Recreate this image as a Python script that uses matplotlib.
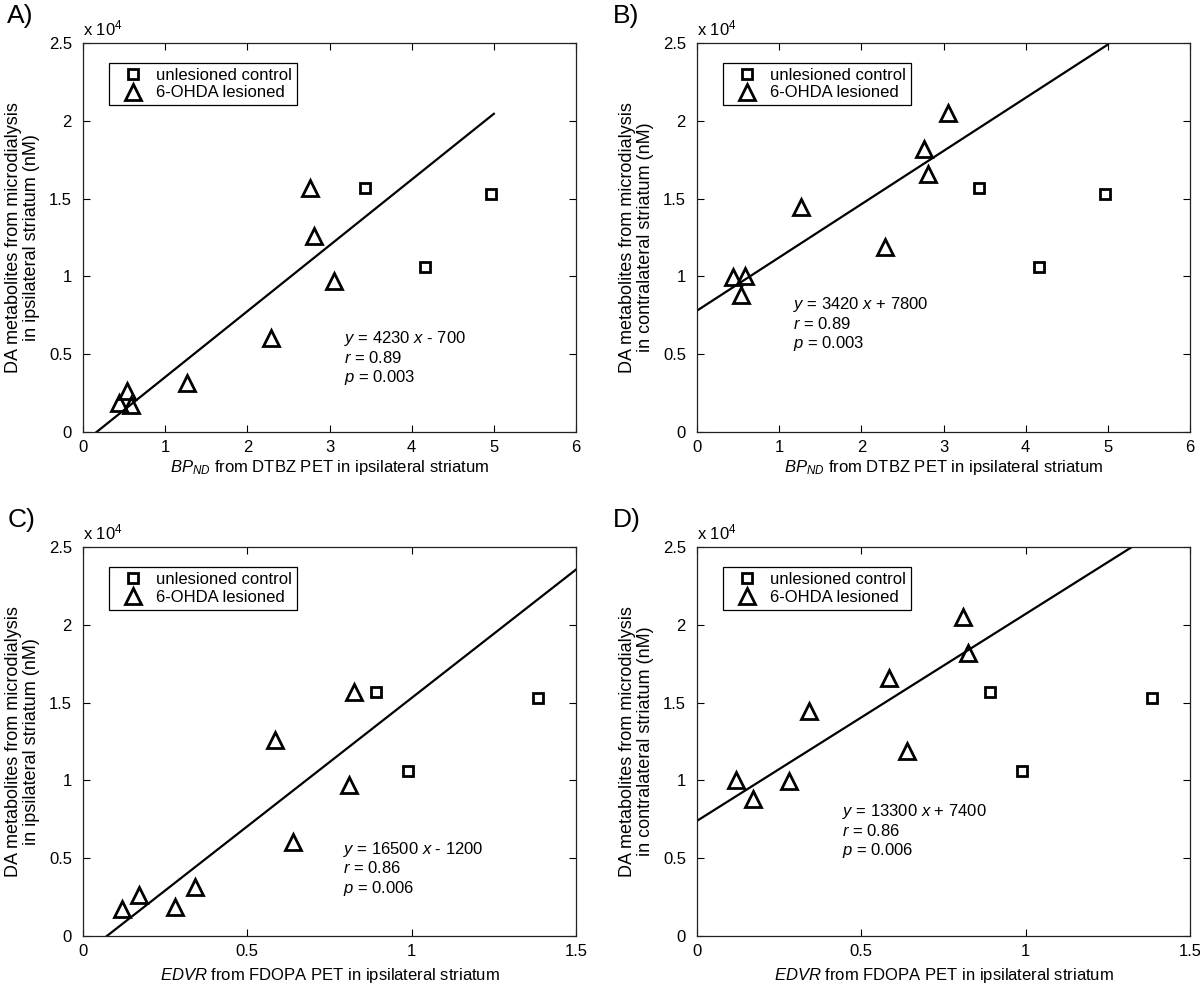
import matplotlib
matplotlib.use("Agg")
import matplotlib.pyplot as plt
from matplotlib.ticker import FormatStrFormatter
import numpy as np

plt.rcParams['font.family'] = 'Liberation Sans'
plt.rcParams['mathtext.fontset'] = 'custom'
plt.rcParams['mathtext.rm'] = 'Liberation Sans'
plt.rcParams['mathtext.it'] = 'Liberation Sans:italic'
plt.rcParams['font.size'] = 12

# data (DA metabolites in nM)
ctrl_bp = [3.43, 4.16, 4.97]
ctrl_edvr = [0.89, 0.99, 1.385]
ctrl_ipsi = [15650, 10600, 15320]
ctrl_contra = [15650, 10600, 15320]

les_bp = [0.59, 0.44, 0.54, 1.27, 2.29, 3.06, 2.81, 2.76]
les_edvr = [0.12, 0.28, 0.17, 0.34, 0.64, 0.81, 0.585, 0.826]
les_ipsi = [1750, 1860, 2660, 3140, 6020, 9690, 12580, 15700]
les_contra = [10000, 9980, 8780, 14470, 11860, 20500, 16600, 18200]

# regression results printed on each panel
fits = [(4230, -700), (3420, 7800), (16500, -1200), (13300, 7400)]
r_vals = ['0.89', '0.89', '0.86', '0.86']
p_vals = ['0.003', '0.003', '0.006', '0.006']

bp_label = r'$\mathit{BP}_{\mathit{ND}}$ from DTBZ PET in ipsilateral striatum'
edvr_label = r'$\mathit{EDVR}$ from FDOPA PET in ipsilateral striatum'
ipsi_label = 'DA metabolites from microdialysis\nin ipsilateral striatum (nM)'
contra_label = 'DA metabolites from microdialysis\nin contralateral striatum (nM)'

W, H = 1200, 986
fig = plt.figure(figsize=(W / 100, H / 100), dpi=100)


def panel(left, top, letter, xc, yc, xl, yl, fit, r, p, xmax, xticks, xlab, ylab,
          line_end, txt_xy, xlabelpad, letter_dx):
    ax = fig.add_axes([left / W, 1 - (top + 389) / H, 493 / W, 389 / H])
    ax.plot(np.array(xc), np.array(yc) / 1e4, 's', ms=7.5, mfc='none', mec='black', mew=2,
            label='unlesioned control')
    ax.plot(np.array(xl), np.array(yl) / 1e4, '^', ms=11, mfc='none', mec='black', mew=2,
            label='6-OHDA lesioned')
    xs = np.array([0, line_end])
    ax.plot(xs, (fit[0] * xs + fit[1]) / 1e4, color='black', lw=1.6)
    ax.set_xlim(0, xmax)
    ax.set_ylim(0, 2.5)
    ax.set_xticks(xticks)
    ax.set_yticks([0, 0.5, 1, 1.5, 2, 2.5])
    ax.xaxis.set_major_formatter(FormatStrFormatter('%g'))
    ax.yaxis.set_major_formatter(FormatStrFormatter('%g'))
    ax.tick_params(direction='in', top=True, right=True, length=5, width=0.8, labelsize=12)
    ax.tick_params(axis='y', pad=8)
    ax.tick_params(axis='x', pad=6)
    for s in ax.spines.values():
        s.set_linewidth(0.9)
        s.set_color('#222222')
    ax.set_xlabel(xlab, labelpad=xlabelpad)
    ax.set_ylabel(ylab, labelpad=6, linespacing=1.1, fontsize=13)
    ax.text(0, 1.012, r'x 10$^{4}$', transform=ax.transAxes, ha='left', va='bottom', fontsize=12)
    ax.text(letter_dx / 493, 1 + 27 / 389, letter, transform=ax.transAxes, fontsize=19,
            ha='left', va='center')
    sign = '+' if fit[1] > 0 else '-'
    txt = (r'$\mathit{y}$ = %d $\mathit{x}$ %s %d' % (fit[0], sign, abs(fit[1])) + '\n'
           + r'$\mathit{r}$ = ' + r + '\n' + r'$\mathit{p}$ = ' + p)
    ax.text(txt_xy[0], txt_xy[1], txt, ha='left', va='top', linespacing=1.15, fontsize=12)
    leg = ax.legend(loc='upper left', bbox_to_anchor=(26 / 493, 1 - 20 / 389), borderaxespad=0,
                    numpoints=1, fancybox=False, edgecolor='black', framealpha=1,
                    handlelength=2.3, handletextpad=0.2, borderpad=0.3, labelspacing=0.15,
                    fontsize=12)
    leg.get_frame().set_linewidth(0.9)
    return ax


panel(83, 43, 'A)', ctrl_bp, ctrl_ipsi, les_bp, les_ipsi, fits[0], r_vals[0], p_vals[0],
      6, range(0, 7), bp_label, ipsi_label, 5.0, (3.18, 0.66), 2, -76)
panel(697, 43, 'B)', ctrl_bp, ctrl_contra, les_bp, les_contra, fits[1], r_vals[1], p_vals[1],
      6, range(0, 7), bp_label, contra_label, 5.0, (1.17, 0.88), 2, -84)
panel(83, 547, 'C)', ctrl_edvr, ctrl_ipsi, les_edvr, les_ipsi, fits[2], r_vals[2], p_vals[2],
      1.5, [0, 0.5, 1, 1.5], edvr_label, ipsi_label, 1.5, (0.79, 0.62), 5, -75)
panel(697, 547, 'D)', ctrl_edvr, ctrl_contra, les_edvr, les_contra, fits[3], r_vals[3], p_vals[3],
      1.5, [0, 0.5, 1, 1.5], edvr_label, contra_label, 1.5, (0.44, 0.86), 5, -84)

fig.savefig('out.png', dpi=100)
